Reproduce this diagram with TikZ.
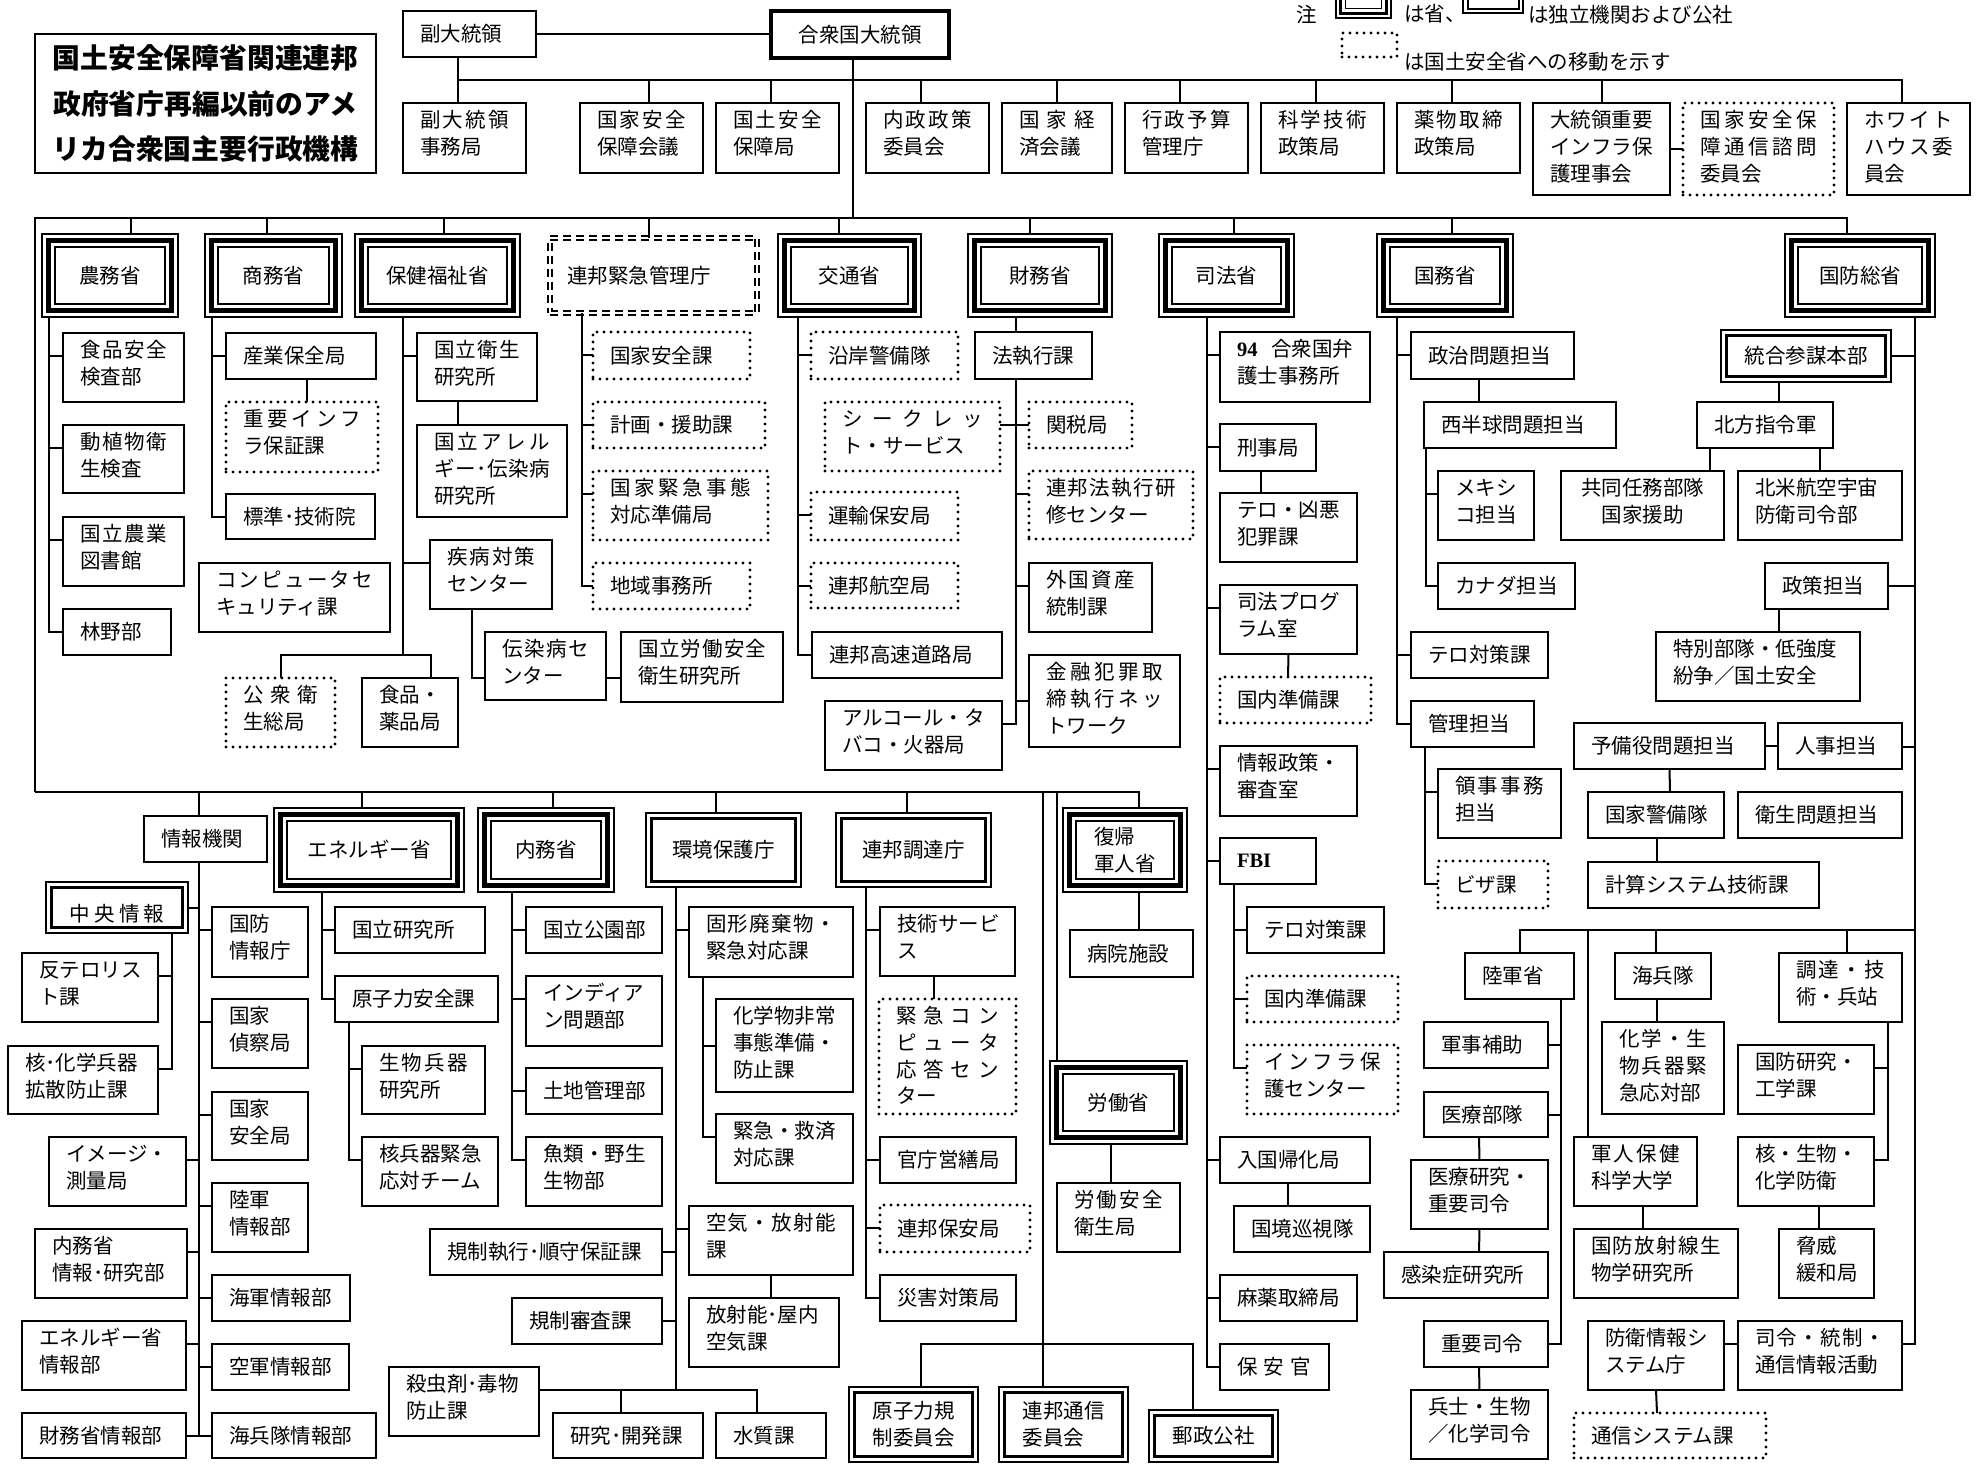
\documentclass[tikz,border=0pt]{standalone}
\usepackage{fontspec}
\setmainfont{Noto Sans CJK JP}
\newfontfamily\serifb{Liberation Serif}
\usetikzlibrary{calc}
\makeatletter
\def\spr@end{\spr@end}
\def\spr@a#1{\ifx#1\spr@end\else#1\expandafter\spr@b\fi}
\def\spr@b#1{\ifx#1\spr@end\else\hfill#1\expandafter\spr@b\fi}
\newcommand\spr[1]{\leavevmode\hbox to\hsize{\spr@a#1\spr@end}}
\newcommand\sprw[2]{\hbox to #1{\spr@a#2\spr@end}}
\newcommand\bx[7][]{%
 \pgfmathsetmacro\bxw{#5-#3}\pgfmathsetmacro\bxh{#6-#4}%
 \pgfmathsetmacro\bxx{(#3+#5)/2}\pgfmathsetmacro\bxy{(#4+#6)/2}%
 \pgfmathsetmacro\bxt{#5-#3-34}\pgfmathsetmacro\bxd{#6-#4-24.8}%
 \in@{\\}{#7}%
 \ifin@\tikzset{bxst/.style={text height=24.8pt,text depth=\bxd pt}}\else\tikzset{bxst/.style={}}\fi
 \node[box,bxst,text width=\bxt pt,minimum width=\bxw pt,minimum height=\bxh pt,#1] (#2) at (\bxx,\bxy) {#7};}
\makeatother
\newcommand\bc[7][]{%
 \pgfmathsetmacro\bxw{#5-#3}\pgfmathsetmacro\bxh{#6-#4}%
 \pgfmathsetmacro\bxx{(#3+#5)/2}\pgfmathsetmacro\bxy{(#4+#6)/2}%
 \node[box,minimum width=\bxw pt,minimum height=\bxh pt,#1] (#2) at (\bxx,\bxy) {#7};}
\newcommand\tri[1]{%
 \draw[line width=4.5pt] ($(#1.north west)+(6.5,6.5)$) rectangle ($(#1.south east)+(-6.5,-6.5)$);
 \draw[line width=1.9pt] ($(#1.north west)+(13,13)$) rectangle ($(#1.south east)+(-13,-13)$);}
\newcommand\dbl[1]{%
 \draw[line width=2.4pt] ($(#1.north west)+(5.5,5.5)$) rectangle ($(#1.south east)+(-5.5,-5.5)$);}
\newcommand\tkl[3][23]{\draw (#2) |- ($(#3.north west)+(0,#1)$);}
\newcommand\tkr[3][23]{\draw (#2) |- ($(#3.north east)+(0,#1)$);}
\begin{document}
\begin{tikzpicture}[x=1pt,y=-1pt,line width=2pt,
 box/.style={draw,line width=2pt,inner xsep=17pt,inner ysep=0pt,outer sep=0pt,align=left,font=\fontsize{20.5}{26.7}\selectfont},
 dotb/.style={line width=3.2pt,dash pattern=on 0pt off 7pt,line cap=round},
 trib/.style={line width=1.6pt,align=center},
 dblb/.style={line width=1.6pt,align=center},
 ddsh/.style={double,double distance=2.4pt,line width=1.4pt,dash pattern=on 8pt off 5pt},
 lg/.style={inner sep=0pt,anchor=west,font=\fontsize{20.5}{24}\selectfont}]
\fill[white] (0,0) rectangle (1977,1470);
\useasboundingbox (0,0) rectangle (1977,1470);
% legend
\bc[trib]{lga}{1336}{-40}{1391}{18}{}
\draw[line width=3.5pt] ($(lga.north west)+(4.5,4.5)$) rectangle ($(lga.south east)+(-4.5,-4.5)$);
\draw[line width=1.6pt] ($(lga.north west)+(9.5,9.5)$) rectangle ($(lga.south east)+(-9.5,-9.5)$);
\bc[dblb]{lgb}{1463}{-40}{1523}{13}{}
\draw[line width=2pt] ($(lgb.north west)+(4.5,4.5)$) rectangle ($(lgb.south east)+(-4.5,-4.5)$);
\bc[dotb]{lgc}{1342}{33}{1397}{57}{}
\node[lg,anchor=center] (lgn) at (1307,15) {注};
\node[lg] (lgt1) at (1403,14) {は省、};
\node[lg] (lgt2) at (1527,15) {は独立機関および公社};
\node[lg] (lgt3) at (1403,62) {は国土安全省への移動を示す};
% title
\bc[font=\fontsize{27.8}{45.5}\selectfont\bfseries,align=center]{title}{35}{34}{376}{173}{国土安全保障省関連連邦\\政府省庁再編以前のアメ\\リカ合衆国主要行政機構}
% top
\bx{vp}{403}{11}{536}{57}{副大統領}
\bc[line width=4.5pt]{pres}{771}{11}{949}{58}{合衆国大統領}
\bx{vpo}{403}{103}{526}{173}{\spr{副大統領}\\事務局}
\bx{nsc}{580}{103}{703}{173}{\spr{国家安全}\\保障会議}
\bx{hso}{716}{103}{839}{173}{\spr{国土安全}\\保障局}
\bx{dpc}{866}{103}{989}{173}{\spr{内政政策}\\委員会}
\bx{nec}{1002}{103}{1112}{173}{\spr{国家経}\\済会議}
\bx{omb}{1125}{103}{1248}{173}{\spr{行政予算}\\管理庁}
\bx{ostp}{1261}{103}{1384}{173}{\spr{科学技術}\\政策局}
\bx{ondcp}{1397}{103}{1520}{173}{\spr{薬物取締}\\政策局}
\bx{pcipb}{1533}{103}{1670}{195}{\spr{大統領重要}\\\spr{インフラ保}\\護理事会}
\bx[dotb]{nstac}{1683}{103}{1834}{195}{\spr{国家安全保}\\\spr{障通信諮問}\\委員会}
\bx{whc}{1847}{103}{1970}{195}{\spr{ホワイト}\\\spr{ハウス委}\\員会}
\coordinate (tb) at (458,80);
\draw (vp.east) -- (vp.east -| pres.west);
\draw ([xshift=-11.5pt]vp.south) -- ([xshift=-6.5pt]vpo.north);
\foreach \n/\s in {nsc/7.5,hso/-6.5,dpc/-6.5,nec/0,omb/-6.5,ostp/-6.5,ondcp/-6.5,pcipb/0,whc/-6.5}{\draw ([xshift=\s pt]\n.north) |- (tb);}
\draw (pcipb.east) -- (nstac.west);
% departments
\bc[trib]{nou}{42}{234}{178}{317}{農務省}\tri{nou}
\bc[trib]{com}{205}{234}{342}{317}{商務省}\tri{com}
\bc[trib]{hhs}{355}{234}{520}{317}{保健福祉省}\tri{hhs}
\bx[ddsh]{fema}{550}{238}{757}{313}{連邦緊急管理庁}
\bc[trib]{dot}{778}{234}{921}{317}{交通省}\tri{dot}
\bc[trib]{treas}{968}{234}{1112}{317}{財務省}\tri{treas}
\bc[trib]{doj}{1159}{234}{1294}{317}{司法省}\tri{doj}
\bc[trib]{dos}{1377}{234}{1513}{317}{国務省}\tri{dos}
\bc[trib]{dod}{1785}{234}{1935}{317}{国防総省}\tri{dod}
\coordinate (cL) at (35,218);
\coordinate (cB) at (35,792);
\draw ([xshift=-7pt]pres.south) |- (cL) -- (cB);
\foreach \n/\s in {nou/21,com/-6.5,hhs/6.5,fema/-4.5,dot/-10.5,treas/-10,doj/7.5,dos/7,dod/-13}{\draw ([xshift=\s pt]\n.north) |- (cL);}
% agriculture
\bx{fsis}{63}{333}{184}{402}{\spr{食品安全}\\検査部}
\bx{aphis}{63}{425}{184}{493}{\spr{動植物衛}\\生検査}
\bx{nal}{63}{517}{184}{586}{\spr{国立農業}\\図書館}
\bx{fs}{63}{609}{171}{655}{林野部}
\coordinate (s-nou) at ([xshift=7pt]nou.south west);
\tkl{s-nou}{fsis}\tkl{s-nou}{aphis}\tkl{s-nou}{nal}\tkl{s-nou}{fs}
% commerce
\bx{cio}{226}{333}{376}{379}{産業保全局}
\bx[dotb]{ciao}{226}{402}{378}{472}{\spr{重要インフ}\\ラ保証課}
\bx{nist}{226}{494}{375}{539}{標準･技術院}
\bx{csd}{199}{563}{390}{632}{\spr{コンピュータセ}\\キュリティ課}
\coordinate (s-com) at ([xshift=7pt]com.south west);
\tkl{s-com}{cio}\tkl{s-com}{nist}
\draw ([xshift=6pt]cio.south) -- ([xshift=5pt]ciao.north);
% HHS
\bx{nih}{417}{333}{537}{401}{\spr{国立衛生}\\研究所}
\bx{niaid}{417}{425}{567}{517}{\spr{国立アレル}\\\spr{ギー･伝染病}\\研究所}
\bx{cdc}{430}{540}{552}{609}{\spr{疾病対策}\\センター}
\bx{ncid}{485}{632}{606}{700}{\spr{伝染病セ}\\ンター}
\bx{niosh}{621}{632}{783}{702}{\spr{国立労働安全}\\衛生研究所}
\bx[dotb]{phs}{226}{678}{335}{747}{\spr{公衆衛}\\生総局}
\bx{fda}{362}{678}{458}{747}{食品・\\薬品局}
\coordinate (s-hhs) at ([xshift=48pt]hhs.south west);
\tkl{s-hhs}{nih}\tkl{s-hhs}{cdc}
\draw (s-hhs) -- ($(s-hhs)+(0,338)$);
\draw (phs.north) |- ($(s-hhs)+(0,338)$) -| ([xshift=21pt]fda.north);
\draw ([xshift=-19pt]nih.south) -- ([xshift=-34pt]niaid.north);
\draw ([xshift=-19pt]cdc.south) |- ($(ncid.north west)+(0,46)$);
\draw ($(ncid.north east)+(0,46)$) -- ($(niosh.north west)+(0,46)$);
% FEMA
\bx[dotb]{fns}{593}{332}{750}{379}{国家安全課}
\bx[dotb]{fpa}{593}{402}{765}{448}{計画・援助課}
\bx[dotb]{onp}{593}{471}{768}{540}{\spr{国家緊急事態}\\対応準備局}
\bx[dotb]{fro}{593}{563}{750}{609}{地域事務所}
\coordinate (s-fema) at ([xshift=32pt]fema.south west);
\tkl{s-fema}{fns}\tkl{s-fema}{fpa}\tkl{s-fema}{onp}\tkl{s-fema}{fro}
% DOT
\bx[dotb]{uscg}{811}{332}{958}{379}{沿岸警備隊}
\bx[dotb]{ss}{825}{402}{1000}{471}{\spr{シークレッ}\\ト・サービス}
\bx[dotb]{tsa}{811}{492}{958}{540}{運輸保安局}
\bx[dotb]{faa}{811}{563}{958}{608}{連邦航空局}
\bx{fhwa}{812}{632}{1002}{678}{連邦高速道路局}
\bx{atf}{825}{701}{1002}{770}{アルコール・タ\\バコ・火器局}
\coordinate (s-dot) at ([xshift=20pt]dot.south west);
\tkl{s-dot}{uscg}\tkl{s-dot}{tsa}\tkl{s-dot}{faa}\tkl{s-dot}{fhwa}
% Treasury
\bx{lec}{975}{332}{1092}{379}{法執行課}
\bx[dotb]{cust}{1029}{402}{1132}{448}{関税局}
\bx[dotb]{fletc}{1029}{471}{1193}{539}{\spr{連邦法執行研}\\修センター}
\bx{ofac}{1029}{563}{1152}{632}{\spr{外国資産}\\統制課}
\bx{fincen}{1029}{655}{1180}{747}{\spr{金融犯罪取}\\\spr{締執行ネッ}\\トワーク}
\draw ([xshift=-24pt]treas.south) -- ([xshift=-17.5pt]lec.north);
\coordinate (s-tr) at ([xshift=-17.5pt]lec.south);
\tkr{s-tr}{ss}\tkl{s-tr}{cust}\tkl{s-tr}{fletc}\tkl{s-tr}{ofac}\tkl[46]{s-tr}{fincen}\tkr{s-tr}{atf}
% Justice
\bx{usa}{1220}{332}{1370}{402}{\leavevmode\hbox to\hsize{{\serifb\bfseries 94}\hfill 合衆国弁}\\護士事務所}
\bx{crim}{1220}{424}{1316}{471}{刑事局}
\bx{tvc}{1220}{493}{1357}{562}{テロ・凶悪\\犯罪課}
\bx{ojp}{1220}{585}{1357}{654}{司法プログ\\ラム室}
\bx[dotb]{dpo}{1220}{677}{1371}{723}{国内準備課}
\bx{oipr}{1220}{746}{1357}{816}{情報政策・\\審査室}
\bx{fbi}{1220}{838}{1316}{884}{{\serifb\bfseries FBI}}
\bx{fct}{1247}{907}{1384}{953}{テロ対策課}
\bx[dotb]{fdp}{1247}{976}{1398}{1022}{国内準備課}
\bx[dotb]{nipc}{1247}{1045}{1398}{1114}{\spr{インフラ保}\\護センター}
\bx{ins}{1220}{1137}{1370}{1183}{入国帰化局}
\bx{bp}{1234}{1206}{1370}{1252}{国境巡視隊}
\bx{dea}{1220}{1275}{1357}{1321}{麻薬取締局}
\bx{usms}{1220}{1344}{1329}{1390}{保\kern6pt 安\kern6pt 官}
\coordinate (s-doj) at ([xshift=48pt]doj.south west);
\foreach \n in {usa,crim,ojp,oipr,fbi,ins,dea,usms}{\tkl{s-doj}{\n}}
\draw ([xshift=-7pt]crim.south) -- ([xshift=-27.5pt]tvc.north);
\draw (ojp.south) -- ([xshift=-7.5pt]dpo.north);
\coordinate (s-fbi) at ([xshift=14pt]fbi.south west);
\tkl{s-fbi}{fct}\tkl{s-fbi}{fdp}\tkl{s-fbi}{nipc}
\draw ([xshift=-7pt]ins.south) -- ([xshift=-14pt]bp.north);
% State
\bx{pa}{1411}{332}{1574}{379}{政治問題担当}
\bx{whm}{1424}{402}{1616}{448}{西半球問題担当}
\bx{mex}{1438}{471}{1534}{540}{メキシ\\コ担当}
\bx{can}{1438}{563}{1575}{609}{カナダ担当}
\bx{sct}{1411}{632}{1548}{678}{テロ対策課}
\bx{mgmt}{1411}{701}{1534}{747}{管理担当}
\bx{ca}{1438}{769}{1561}{838}{\spr{領事事務}\\担当}
\bx[dotb]{visa}{1438}{861}{1548}{908}{ビザ課}
\coordinate (s-dos) at ([xshift=20pt]dos.south west);
\tkl{s-dos}{pa}\tkl{s-dos}{sct}\tkl{s-dos}{mgmt}
\draw ([xshift=-13.5pt]pa.south) -- ([xshift=-41pt]whm.north);
\coordinate (s-whm) at ([xshift=2pt]whm.south west);
\tkl{s-whm}{mex}\tkl{s-whm}{can}
\coordinate (s-mg) at ([xshift=14pt]mgmt.south west);
\tkl{s-mg}{ca}\tkl{s-mg}{visa}
% Defense
\bc[dblb]{jcs}{1721}{330}{1891}{382}{統合参謀本部}\dbl{jcs}
\bx{nthc}{1697}{402}{1833}{448}{北方指令軍}
\bx[align=center]{jtf}{1561}{471}{1724}{540}{共同任務部隊\\国家援助}
\bx{norad}{1738}{471}{1902}{540}{北米航空宇宙\\防衛司令部}
\bx{pol}{1765}{563}{1888}{609}{政策担当}
\bx{solic}{1656}{632}{1860}{701}{特別部隊・低強度\\紛争／国土安全}
\bx{ra}{1574}{723}{1765}{769}{予備役問題担当}
\bx{per}{1778}{723}{1902}{769}{人事担当}
\bx{ng}{1588}{792}{1724}{838}{国家警備隊}
\bx{ha}{1738}{792}{1902}{838}{衛生問題担当}
\bx{cst}{1588}{862}{1819}{908}{計算システム技術課}
\bx{army}{1465}{953}{1574}{999}{陸軍省}
\bx{marine}{1615}{953}{1711}{999}{海兵隊}
\bx{atl}{1779}{953}{1902}{1022}{\spr{調達・技}\\術・兵站}
\bx{aux}{1424}{1022}{1548}{1068}{軍事補助}
\bx{med}{1424}{1092}{1548}{1137}{医療部隊}
\bx{mrc}{1411}{1160}{1548}{1229}{医療研究・\\重要司令}
\bx{idr}{1384}{1252}{1548}{1298}{感染症研究所}
\bx{cc}{1424}{1321}{1548}{1367}{重要司令}
\bx{sbc}{1411}{1390}{1548}{1459}{兵士・生物\\／化学司令}
\bx{cbirf}{1602}{1022}{1724}{1114}{\spr{化学・生}\\\spr{物兵器緊}\\急応対部}
\bx{usuhs}{1574}{1137}{1697}{1206}{\spr{軍人保健}\\科学大学}
\bx{afrri}{1574}{1229}{1738}{1298}{\spr{国防放射線生}\\物学研究所}
\bx{disa}{1588}{1321}{1724}{1390}{防衛情報シ\\ステム庁}
\bx{c3i}{1738}{1321}{1902}{1390}{\spr{司令・統制・}\\通信情報活動}
\bx[dotb]{ncs}{1574}{1413}{1766}{1458}{通信システム課}
\bx{ddre}{1738}{1045}{1874}{1114}{国防研究・\\工学課}
\bx{cbd}{1738}{1137}{1874}{1206}{核・生物・\\化学防衛}
\bx{dtra}{1779}{1229}{1874}{1298}{脅威\\緩和局}
\coordinate (s-dod) at ([xshift=-20pt]dod.south east);
\tkr[26]{s-dod}{jcs}\tkr{s-dod}{pol}\tkr[24]{s-dod}{per}\tkr{s-dod}{c3i}
\draw ([xshift=-27pt]jcs.south) -- ([xshift=14pt]nthc.north);
\draw ([xshift=13pt]nthc.south west) -- ([xshift=-14pt]jtf.north east);
\draw ([xshift=-13pt]nthc.south east) -- ([xshift=82pt]norad.north west);
\draw ([xshift=14pt]pol.south west) -- ([xshift=123pt]solic.north west);
\draw (ra.east) -- (per.west);
\draw (ra.south) -- ([xshift=14pt]ng.north);
\draw ([xshift=1pt]ng.south) -- ([xshift=-46.5pt]cst.north);
\coordinate (db) at (1915,930);
\draw (army.north) |- (db);
\draw ([xshift=14pt]usuhs.north west) |- (db);
\draw ([xshift=-7pt]marine.north) |- (db);
\draw ([xshift=6.5pt]atl.north) |- (db);
\coordinate (s-army) at ([xshift=-13pt]army.south east);
\tkr{s-army}{aux}\tkr{s-army}{med}\tkr{s-army}{cc}
\draw ([xshift=-7pt]med.south) -- (mrc.north);
\draw (mrc.south) -- ([xshift=13pt]idr.north);
\draw ([xshift=-7pt]cc.south) -- (sbc.north);
\draw ([xshift=-6pt]marine.south) -- ([xshift=-6pt]cbirf.north);
\draw ([xshift=7.5pt]usuhs.south) -- ([xshift=-13pt]afrri.north);
\coordinate (s-atl) at ([xshift=-14pt]atl.south east);
\tkr{s-atl}{ddre}\tkr{s-atl}{cbd}
\draw ([xshift=13pt]cbd.south) -- ([xshift=-7.5pt]dtra.north);
\draw ($(disa.north east)+(0,23)$) -- ($(c3i.north west)+(0,23)$);
\draw (disa.south) -- ([xshift=-13pt]ncs.north);
% lower departments
\bx{ic}{144}{816}{267}{862}{情報機関}
\bc[trib]{doe}{274}{808}{464}{892}{エネルギー省}\tri{doe}
\bc[trib]{doi}{478}{808}{614}{892}{内務省}\tri{doi}
\bc[dblb]{epa}{646}{813}{801}{887}{環境保護庁}\dbl{epa}
\bc[dblb]{gsa}{836}{813}{991}{887}{連邦調達庁}\dbl{gsa}
\bc[trib,align=left]{fukki}{1063}{808}{1187}{892}{復帰\\軍人省}\tri{fukki}
\bx{hosp}{1070}{930}{1193}{977}{病院施設}
\bc[trib]{labor}{1050}{1061}{1187}{1144}{労働省}\tri{labor}
\bx{osha}{1057}{1183}{1180}{1252}{\spr{労働安全}\\衛生局}
\bc[dblb]{nrc}{849}{1387}{978}{1462}{原子力規\\制委員会}\dbl{nrc}
\bc[dblb,align=left]{fcc}{999}{1387}{1128}{1462}{連邦通信\\委員会}\dbl{fcc}
\bc[dblb]{usps}{1149}{1410}{1278}{1462}{郵政公社}\dbl{usps}
\foreach \n/\s in {ic/-6.5,doe/-7,doi/7,epa/-7.5,gsa/-6.5,fcc/-20.5,fukki/14}{\draw ([xshift=\s pt]\n.north) |- (cB);}
\draw ([xshift=7pt]labor.north west) |- (cB);
\coordinate (cP) at (1043,1344);
\draw ([xshift=7.5pt]nrc.north) |- (cP);
\draw ([xshift=-20.5pt]usps.north) |- (cP);
\draw ([xshift=14pt]fukki.south) -- ([xshift=7.5pt]hosp.north);
\draw ([xshift=-7.5pt]labor.south) -- ([xshift=-7.5pt]osha.north);
% intelligence
\bc[dblb,text height=28pt,text depth=0pt]{cia}{46}{882}{188}{933}{\sprw{95pt}{中央情報}}\dbl{cia}
\bx{dia}{212}{907}{308}{977}{国防\\情報庁}
\bx{ct}{22}{953}{158}{1022}{反テロリス\\ト課}
\bx{ncb}{8}{1046}{158}{1114}{核･化学兵器\\拡散防止課}
\bx{nro}{212}{999}{308}{1068}{国家\\偵察局}
\bx{nsa}{212}{1092}{308}{1160}{国家\\安全局}
\bx{nima}{49}{1137}{186}{1206}{イメージ・\\測量局}
\bx{ai}{212}{1183}{308}{1252}{陸軍\\情報部}
\bx{doii}{35}{1229}{187}{1298}{内務省\\情報･研究部}
\bx{ni}{212}{1275}{350}{1321}{海軍情報部}
\bx{ei}{22}{1321}{186}{1390}{エネルギー省\\情報部}
\bx{afi}{212}{1344}{349}{1390}{空軍情報部}
\bx{ti}{22}{1413}{186}{1458}{財務省情報部}
\bx{mi}{212}{1413}{376}{1458}{海兵隊情報部}
\coordinate (s-ic) at ([xshift=-6.5pt]ic.south);
\tkr[25.5]{s-ic}{cia}
\foreach \n in {dia,nro,nsa,ai,ni,afi,mi}{\tkl{s-ic}{\n}}
\foreach \n in {nima,doii,ei,ti}{\tkr{s-ic}{\n}}
\coordinate (s-cia) at ([xshift=-16pt]cia.south east);
\tkr{s-cia}{ct}\tkr{s-cia}{ncb}
% energy
\bx{nl}{335}{907}{485}{953}{国立研究所}
\bx{nsd}{335}{976}{498}{1022}{原子力安全課}
\bx{bwl}{362}{1046}{485}{1114}{\spr{生物兵器}\\研究所}
\bx{nert}{362}{1137}{498}{1206}{核兵器緊急\\応対チーム}
\coordinate (s-doe) at ([xshift=48pt]doe.south west);
\tkl{s-doe}{nl}\tkl{s-doe}{nsd}
\coordinate (s-nsd) at ([xshift=14pt]nsd.south west);
\tkl{s-nsd}{bwl}\tkl{s-nsd}{nert}
% interior
\bx{nps}{526}{907}{662}{953}{国立公園部}
\bx{bia}{526}{976}{662}{1046}{インディア\\ン問題部}
\bx{blm}{526}{1068}{662}{1114}{土地管理部}
\bx{fws}{526}{1137}{662}{1206}{魚類・野生\\生物部}
\coordinate (s-doi) at ([xshift=34pt]doi.south west);
\foreach \n in {nps,bia,blm,fws}{\tkl{s-doi}{\n}}
% EPA
\bx{sw}{689}{907}{853}{977}{\spr{固形廃棄物・}\\緊急対応課}
\bx{cep}{716}{999}{853}{1092}{化学物非常\\事態準備・\\防止課}
\bx{er}{716}{1114}{853}{1183}{緊急・救済\\対応課}
\bx{ar}{689}{1206}{853}{1275}{\spr{空気・放射能}\\課}
\bx{ria}{689}{1298}{839}{1367}{放射能･屋内\\空気課}
\bx{eca}{430}{1229}{662}{1275}{規制執行･順守保証課}
\bx{rr}{512}{1298}{662}{1344}{規制審査課}
\bx{pest}{389}{1367}{539}{1436}{殺虫剤･毒物\\防止課}
\bx{rd}{553}{1413}{703}{1458}{研究･開発課}
\bx{wq}{716}{1413}{826}{1458}{水質課}
\coordinate (s-epa) at ([xshift=30pt]epa.south west);
\tkl{s-epa}{sw}\tkl{s-epa}{ar}\tkr{s-epa}{eca}\tkr{s-epa}{rr}\tkr{s-epa}{pest}
\coordinate (s-sw) at ([xshift=14pt]sw.south west);
\tkl[46.5]{s-sw}{cep}\tkl{s-sw}{er}
\draw (ar.south) -- ([xshift=7pt]ria.north);
\draw ([xshift=-7pt]rd.north) |- ($(pest.north east)+(0,23)$);
\draw ([xshift=-14pt]wq.north) |- ($(pest.north east)+(0,23)$);
% GSA
\bx{ts}{880}{907}{1015}{976}{技術サービ\\ス}
\bx[dotb]{ecrc}{879}{999}{1016}{1114}{\spr{緊急コン}\\\spr{ピュータ}\\\spr{応答セン}\\ター}
\bx{pbs}{880}{1137}{1016}{1183}{官庁営繕局}
\bx[dotb]{fps}{880}{1205}{1030}{1252}{連邦保安局}
\bx{fdc}{880}{1275}{1016}{1321}{災害対策局}
\coordinate (s-gsa) at ([xshift=30pt]gsa.south west);
\foreach \n in {ts,pbs,fps,fdc}{\tkl{s-gsa}{\n}}
\draw ([xshift=-13.5pt]ts.south) -- ([xshift=-13.5pt]ecrc.north);
\end{tikzpicture}
\end{document}
